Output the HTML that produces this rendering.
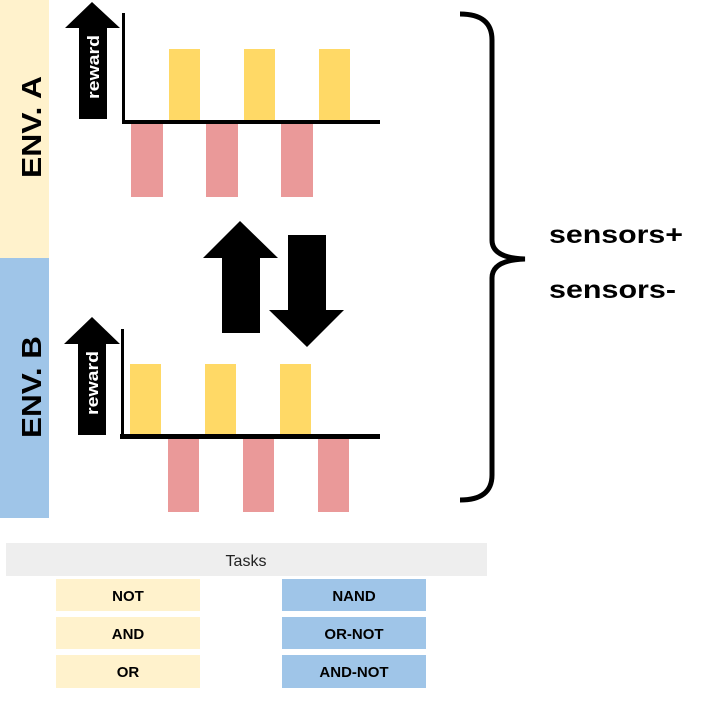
<!DOCTYPE html>
<html><head><style>body{margin:0;background:#fff}svg{display:block}</style></head><body>
<svg width="708" height="703" viewBox="0 0 708 703" xmlns="http://www.w3.org/2000/svg" font-family="Liberation Sans, sans-serif">
<rect x="0" y="0" width="49" height="258" fill="#fff2cc"/>
<rect x="0" y="258" width="49" height="260" fill="#9fc5e8"/>
<text transform="translate(41,127) rotate(-90)" text-anchor="middle" font-weight="bold" font-size="28" textLength="102" lengthAdjust="spacingAndGlyphs" fill="#000">ENV. A</text>
<text transform="translate(41,387) rotate(-90)" text-anchor="middle" font-weight="bold" font-size="28" textLength="102" lengthAdjust="spacingAndGlyphs" fill="#000">ENV. B</text>
<!-- chart A -->
<polygon points="65,28 92,2 120,28 107,28 107,119 79,119 79,28" fill="#000"/>
<text transform="translate(99,67) rotate(-90)" text-anchor="middle" font-weight="bold" font-size="17" textLength="64" lengthAdjust="spacingAndGlyphs" fill="#fff">reward</text>
<g fill="#ffd966"><rect x="169" y="49" width="31" height="71"/><rect x="244" y="49" width="31" height="71"/><rect x="319" y="49" width="31" height="71"/></g>
<g fill="#ea9999"><rect x="131" y="124" width="32" height="73"/><rect x="206" y="124" width="32" height="73"/><rect x="281" y="124" width="32" height="73"/></g>
<rect x="122" y="13" width="3" height="111" fill="#000"/>
<rect x="122" y="120" width="258" height="4" fill="#000"/>
<!-- middle arrows -->
<polygon points="203,258 240,221 278,258 260,258 260,333 222,333 222,258" fill="#000"/>
<polygon points="288,235 326,235 326,310 344,310 307,347 269,310 288,310" fill="#000"/>
<!-- chart B -->
<polygon points="64,344 92,317 120,344 106,344 106,435 78,435 78,344" fill="#000"/>
<text transform="translate(98,383) rotate(-90)" text-anchor="middle" font-weight="bold" font-size="17" textLength="64" lengthAdjust="spacingAndGlyphs" fill="#fff">reward</text>
<g fill="#ffd966"><rect x="130" y="364" width="31" height="70"/><rect x="205" y="364" width="31" height="70"/><rect x="280" y="364" width="31" height="70"/></g>
<g fill="#ea9999"><rect x="168" y="439" width="31" height="73"/><rect x="243" y="439" width="31" height="73"/><rect x="318" y="439" width="31" height="73"/></g>
<rect x="121" y="329" width="3" height="110" fill="#000"/>
<rect x="120" y="434" width="260" height="5" fill="#000"/>
<!-- brace -->
<path d="M460,14 Q492,14 492,40 L492,240 Q492,258 525,259 Q492,260 492,278 L492,475 Q492,500 460,500" fill="none" stroke="#000" stroke-width="5"/>
<text x="549" y="243" font-weight="bold" font-size="25" textLength="134" lengthAdjust="spacingAndGlyphs">sensors+</text>
<text x="549" y="298" font-weight="bold" font-size="25" textLength="127" lengthAdjust="spacingAndGlyphs">sensors-</text>
<!-- table -->
<rect x="6" y="543" width="481" height="33" fill="#eeeeee"/>
<text x="246" y="566" text-anchor="middle" font-size="16" fill="#222">Tasks</text>
<g fill="#fff2cc"><rect x="56" y="579" width="144" height="32"/><rect x="56" y="617" width="144" height="32"/><rect x="56" y="655" width="144" height="33"/></g>
<g fill="#9fc5e8"><rect x="282" y="579" width="144" height="32"/><rect x="282" y="617" width="144" height="32"/><rect x="282" y="655" width="144" height="33"/></g>
<g font-weight="bold" font-size="15" text-anchor="middle" fill="#000">
<text x="128" y="601">NOT</text><text x="128" y="639">AND</text><text x="128" y="677">OR</text>
<text x="354" y="601">NAND</text><text x="354" y="639">OR-NOT</text><text x="354" y="677">AND-NOT</text>
</g>
</svg>
</body></html>
